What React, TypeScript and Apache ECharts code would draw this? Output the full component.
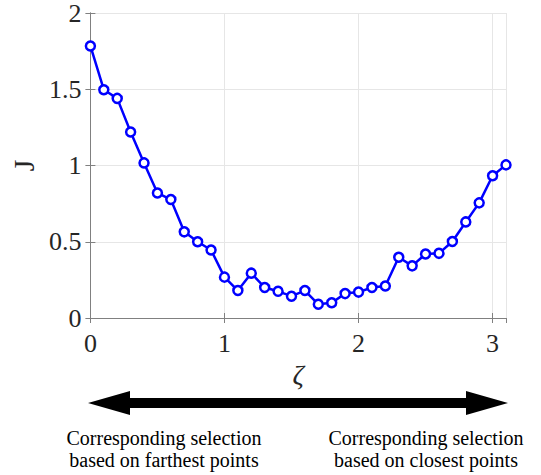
import React, { useEffect, useRef } from "react";
import * as echarts from "echarts";

const zeta = [0, 0.1, 0.2, 0.3, 0.4, 0.5, 0.6, 0.7, 0.8, 0.9, 1.0, 1.1, 1.2, 1.3, 1.4, 1.5, 1.6, 1.7, 1.8, 1.9, 2.0, 2.1, 2.2, 2.3, 2.4, 2.5, 2.6, 2.7, 2.8, 2.9, 3.0, 3.1];
const J = [1.784, 1.497, 1.44, 1.22, 1.017, 0.82, 0.777, 0.565, 0.5, 0.446, 0.268, 0.18, 0.294, 0.2, 0.175, 0.143, 0.18, 0.09, 0.1, 0.16, 0.17, 0.2, 0.21, 0.398, 0.342, 0.42, 0.424, 0.502, 0.63, 0.755, 0.933, 1.004];
const leftText = "Corresponding selection\nbased on farthest points";
const rightText = "Corresponding selection\nbased on closest points";

const FONT = "'Liberation Serif', 'Times New Roman', serif";

export default function App() {
  const ref = useRef<HTMLDivElement>(null);
  useEffect(() => {
    document.body.style.margin = "0";
    const chart = echarts.init(ref.current!, null, { renderer: "svg" });
    const axisLineStyle = { color: "#808080", width: 1 };
    chart.setOption({
      animation: false,
      grid: { left: 89, right: 35, top: 10, bottom: 157, containLabel: false },
      xAxis: [
        {
          type: "value",
          min: 0,
          max: 3.1,
          interval: 1,
          name: "ζ",
          nameLocation: "middle",
          nameGap: 40,
          nameTextStyle: { fontFamily: FONT, fontSize: 28, fontStyle: "italic", color: "#262626" },
          axisLine: { show: true, lineStyle: axisLineStyle },
          axisTick: { show: true, inside: true, length: 5, lineStyle: axisLineStyle },
          axisLabel: { fontFamily: FONT, fontSize: 26, color: "#262626", margin: 12, showMaxLabel: false },
          splitLine: { show: true, lineStyle: { color: "#e6e6e6", width: 1 } },
        },
        {
          type: "value",
          position: "top",
          min: 0,
          max: 3.1,
          interval: 1,
          axisLine: { show: true, lineStyle: axisLineStyle },
          axisTick: { show: true, inside: true, length: 5, lineStyle: axisLineStyle },
          axisLabel: { show: false },
          splitLine: { show: false },
        },
      ],
      yAxis: [
        {
          type: "value",
          min: 0,
          max: 2,
          interval: 0.5,
          name: "J",
          nameLocation: "middle",
          nameGap: 46,
          nameTextStyle: { fontFamily: FONT, fontSize: 30, color: "#262626" },
          axisLine: { show: true, lineStyle: axisLineStyle },
          axisTick: { show: true, inside: true, length: 5, lineStyle: axisLineStyle },
          axisLabel: { fontFamily: FONT, fontSize: 26, color: "#262626", margin: 9 },
          splitLine: { show: true, lineStyle: { color: "#e6e6e6", width: 1 } },
        },
        {
          type: "value",
          position: "right",
          min: 0,
          max: 2,
          interval: 0.5,
          axisLine: { show: true, lineStyle: axisLineStyle },
          axisTick: { show: true, inside: true, length: 5, lineStyle: axisLineStyle },
          axisLabel: { show: false },
          splitLine: { show: false },
        },
      ],
      series: [
        {
          type: "line",
          xAxisIndex: 0,
          yAxisIndex: 0,
          data: zeta.map((z, i) => [z, J[i]]),
          symbol: "circle",
          symbolSize: 9,
          showAllSymbol: true,
          lineStyle: { color: "#0000ff", width: 2.5 },
          itemStyle: { color: "#ffffff", borderColor: "#0000ff", borderWidth: 2.5 },
          z: 3,
        },
      ],
      graphic: [
        {
          type: "polygon",
          shape: {
            points: [
              [88, 403],
              [130, 391],
              [130, 398],
              [466, 398],
              [466, 391],
              [508, 403],
              [466, 415],
              [466, 408],
              [130, 408],
              [130, 415],
            ],
          },
          style: { fill: "#000000" },
        },
        {
          type: "text",
          x: 164,
          y: 449,
          style: {
            text: leftText,
            fontFamily: FONT,
            fontSize: 20,
            lineHeight: 22,
            fill: "#000000",
            align: "center",
            verticalAlign: "middle",
          },
        },
        {
          type: "text",
          x: 426,
          y: 449,
          style: {
            text: rightText,
            fontFamily: FONT,
            fontSize: 20,
            lineHeight: 22,
            fill: "#000000",
            align: "center",
            verticalAlign: "middle",
          },
        },
      ],
    });
    return () => chart.dispose();
  }, []);
  return <div ref={ref} style={{ width: 541, height: 475 }} />;
}
